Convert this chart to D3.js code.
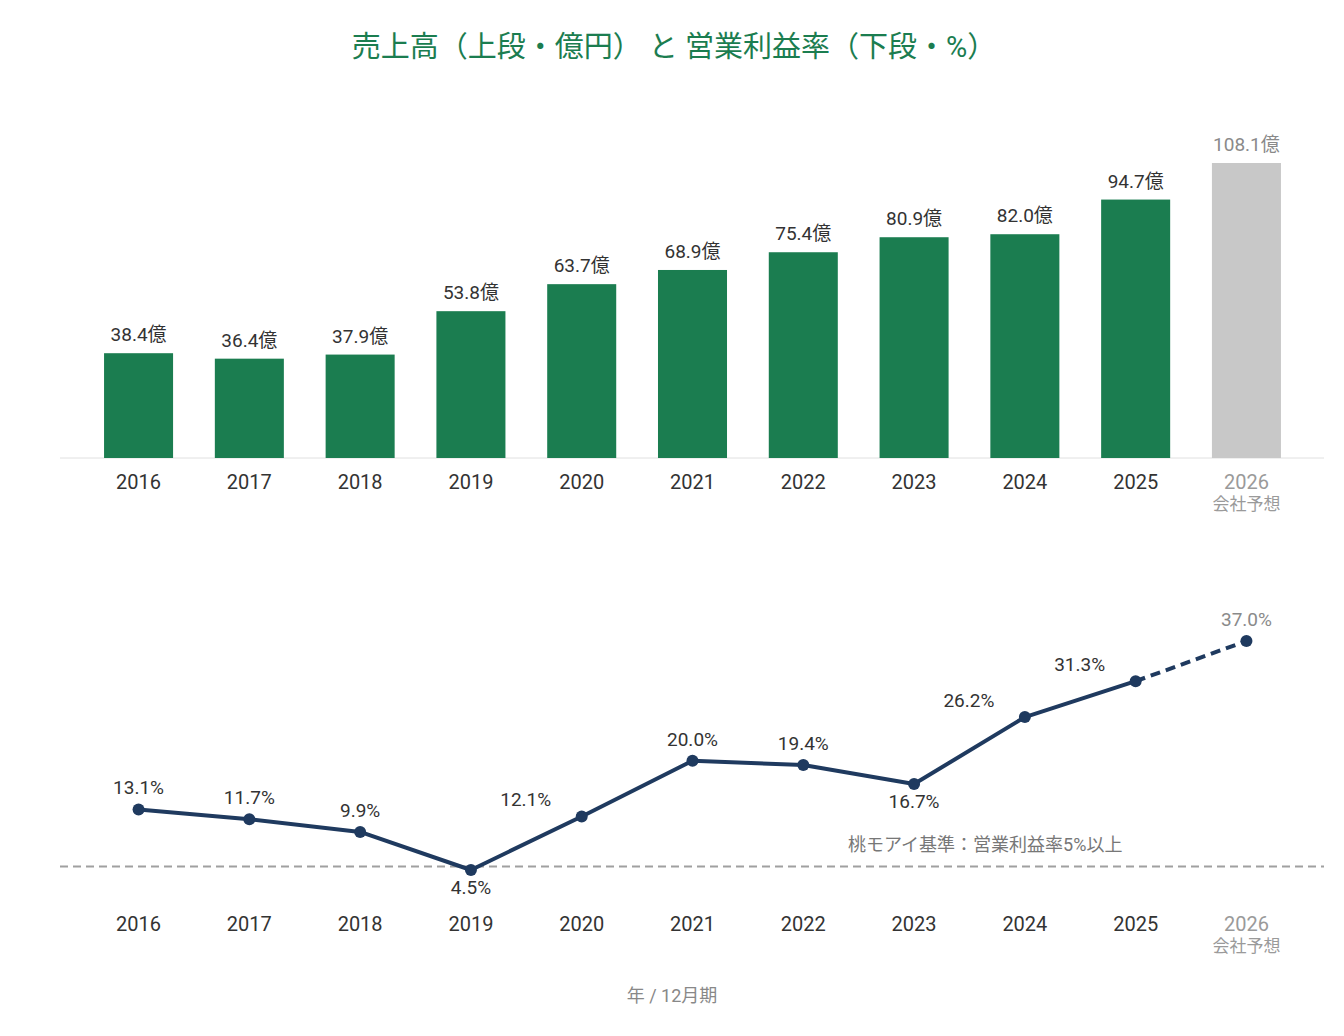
<!DOCTYPE html>
<html>
<head>
<meta charset="utf-8">
<script src="https://cdn.jsdelivr.net/npm/d3@7"></script>
<style>
  body { margin: 0; background: #fff; }
  text { font-family: Roboto, "Noto Sans CJK JP", sans-serif; }
</style>
</head>
<body>
<div id="chart"></div>
<script>
(function () {
    // data
    const years = ["2016", "2017", "2018", "2019", "2020", "2021", "2022", "2023", "2024", "2025", "2026"];
    const sales = [38.4, 36.4, 37.9, 53.8, 63.7, 68.9, 75.4, 80.9, 82.0, 94.7, 108.1];
    const margins = [13.1, 11.7, 9.9, 4.5, 12.1, 20.0, 19.4, 16.7, 26.2, 31.3, 37.0];
    // where each margin label goes: above, below, or upper-left of the point
    const marginLabelPos = ["up", "up", "up", "down", "left", "up", "up", "down", "left", "left", "up"];
    const forecastYear = "2026";
    const forecastNote = "会社予想";
    const threshold = 5;

    const W = 1344, H = 1036;
    const green = "#1b7d50", navy = "#1f3a5f", grey = "#c8c8c8";

    const svg = d3.select("#chart")
      .append("svg")
        .attr("width", W)
        .attr("height", H);

    // title
    svg.append("text")
      .attr("x", 674)
      .attr("y", 57)
      .attr("text-anchor", "middle")
      .style("font-size", "29px")
      .style("fill", green)
      .text("売上高（上段・億円） と 営業利益率（下段・%）");

    const x = d3.scaleBand()
      .domain(years)
      .range([83, 1302])
      .paddingInner(0.377)
      .paddingOuter(0.19);

    // ---- top: sales bars
    const yBar = d3.scaleLinear()
      .domain([0, 108.1])
      .range([458, 163]);

    svg.append("line")
      .attr("x1", 60).attr("x2", 1324)
      .attr("y1", yBar(0)).attr("y2", yBar(0))
      .attr("stroke", "#e0e0e0")
      .attr("stroke-width", 1);

    const barData = years.map((y, i) => ({ year: y, v: sales[i] }));

    svg.append("g")
      .selectAll("rect")
      .data(barData)
      .enter()
      .append("rect")
        .attr("x", d => x(d.year))
        .attr("y", d => yBar(d.v))
        .attr("width", x.bandwidth())
        .attr("height", d => yBar(0) - yBar(d.v))
        .attr("fill", d => d.year === forecastYear ? grey : green);

    svg.append("g")
      .selectAll("text")
      .data(barData)
      .enter()
      .append("text")
        .attr("x", d => x(d.year) + x.bandwidth() / 2)
        .attr("y", d => yBar(d.v) - 12)
        .attr("text-anchor", "middle")
        .style("font-size", "19px")
        .style("fill", d => d.year === forecastYear ? "#8a8a8a" : "#333")
        .text(d => d.v.toFixed(1) + "億");

    // x labels, shared by both panels
    function yearLabels(baseY) {
        const g = svg.append("g");
        g.selectAll("text.yr")
          .data(years)
          .enter()
          .append("text")
            .attr("class", "yr")
            .attr("x", d => x(d) + x.bandwidth() / 2)
            .attr("y", baseY)
            .attr("text-anchor", "middle")
            .style("font-size", "20px")
            .style("fill", d => d === forecastYear ? "#9a9a9a" : "#333")
            .text(d => d);
        g.append("text")
          .attr("x", x(forecastYear) + x.bandwidth() / 2)
          .attr("y", baseY + 21)
          .attr("text-anchor", "middle")
          .style("font-size", "17px")
          .style("fill", "#9a9a9a")
          .text(forecastNote);
    }
    yearLabels(489);

    // ---- bottom: operating margin line
    const yLine = d3.scaleLinear()
      .domain([0, 37])
      .range([901.7, 641]);

    const cx = d => x(d.year) + x.bandwidth() / 2;

    // 5% reference line
    svg.append("line")
      .attr("x1", 60).attr("x2", 1324)
      .attr("y1", yLine(threshold)).attr("y2", yLine(threshold))
      .attr("stroke", "#a0a0a0")
      .attr("stroke-width", 2)
      .style("stroke-dasharray", "8,5");

    svg.append("text")
      .attr("x", 848)
      .attr("y", yLine(threshold) - 15)
      .style("font-size", "18px")
      .style("fill", "#777")
      .text("桃モアイ基準：営業利益率" + threshold + "%以上");

    const lineData = years.map((y, i) => ({ year: y, v: margins[i], pos: marginLabelPos[i] }));
    const actual = lineData.filter(d => d.year !== forecastYear);
    const forecast = lineData.slice(-2);

    const line = d3.line()
      .x(cx)
      .y(d => yLine(d.v));

    svg.append("path")
      .datum(actual)
      .attr("d", line)
      .attr("fill", "none")
      .attr("stroke", navy)
      .attr("stroke-width", 4)
      .attr("stroke-linejoin", "round");

    svg.append("path")
      .datum(forecast)
      .attr("d", line)
      .attr("fill", "none")
      .attr("stroke", navy)
      .attr("stroke-width", 4)
      .style("stroke-dasharray", "10,6");

    svg.append("g")
      .selectAll("circle")
      .data(lineData)
      .enter()
      .append("circle")
        .attr("cx", cx)
        .attr("cy", d => yLine(d.v))
        .attr("r", 6)
        .attr("fill", navy);

    svg.append("g")
      .selectAll("text")
      .data(lineData)
      .enter()
      .append("text")
        .attr("x", d => d.pos === "left" ? cx(d) - 56 : cx(d))
        .attr("y", d => {
            if (d.pos === "down") return yLine(d.v) + 24;
            if (d.pos === "left") return yLine(d.v) - 10;
            return yLine(d.v) - 15;
        })
        .attr("text-anchor", "middle")
        .style("font-size", "19px")
        .style("fill", d => d.year === forecastYear ? "#8a8a8a" : "#333")
        .text(d => d.v.toFixed(1) + "%");

    yearLabels(931);

    // footer
    svg.append("text")
      .attr("x", 672)
      .attr("y", 1002)
      .attr("text-anchor", "middle")
      .style("font-size", "18px")
      .style("fill", "#888")
      .text("年 / 12月期");
})();
</script>
</body>
</html>
